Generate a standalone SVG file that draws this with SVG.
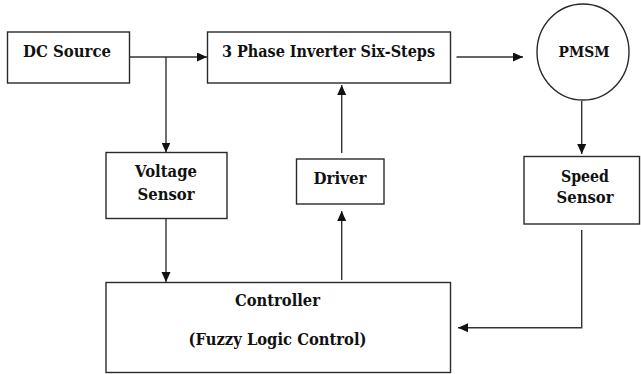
<svg xmlns="http://www.w3.org/2000/svg" width="641" height="374" viewBox="0 0 641 374">
  <defs>
    <marker id="arrow" markerUnits="userSpaceOnUse" markerWidth="11" markerHeight="10" refX="10" refY="4.5" orient="auto">
      <path d="M0,0 L10,4.5 L0,9 z" fill="#111"/>
    </marker>
  </defs>
  <rect width="641" height="374" fill="#ffffff"/>

  <g id="connectors" fill="none" stroke="#333" stroke-width="1.4">
    <path d="M129.5,57 L207,57" marker-end="url(#arrow)"/>
    <path d="M166,57 L166,152.5" marker-end="url(#arrow)"/>
    <path d="M456.5,57 L523,57" marker-end="url(#arrow)"/>
    <path d="M581.7,101 L581.7,154" marker-end="url(#arrow)"/>
    <path d="M581.7,230 L581.7,327.7 L458,327.7" marker-end="url(#arrow)"/>
    <path d="M166,218.5 L166,282" marker-end="url(#arrow)"/>
    <path d="M341.7,280 L341.7,211" marker-end="url(#arrow)"/>
    <path d="M341.7,153 L341.7,85" marker-end="url(#arrow)"/>
  </g>

  <g font-family="'DejaVu Serif', serif" font-weight="bold" font-size="17.5" fill="#111" text-anchor="middle">
  <g id="dc-source">
    <rect x="7.5" y="32" width="122" height="51" fill="#fff" stroke="#2a2a2a" stroke-width="1.4"/>
    <text x="67" y="56.5" textLength="88" lengthAdjust="spacingAndGlyphs">DC Source</text>
  </g>
  <g id="inverter">
    <rect x="207.5" y="32" width="243" height="51" fill="#fff" stroke="#2a2a2a" stroke-width="1.4"/>
    <text x="328.5" y="56.5" textLength="213" lengthAdjust="spacingAndGlyphs">3 Phase Inverter Six-Steps</text>
  </g>
  <g id="pmsm">
    <ellipse cx="583" cy="52" rx="46" ry="48" fill="#fff" stroke="#2a2a2a" stroke-width="1.4"/>
    <text x="584" y="57" font-size="15.5" textLength="51" lengthAdjust="spacingAndGlyphs">PMSM</text>
  </g>
  <g id="voltage-sensor">
    <rect x="106" y="152.5" width="121" height="66" fill="#fff" stroke="#2a2a2a" stroke-width="1.4"/>
    <text x="166" y="177" textLength="62" lengthAdjust="spacingAndGlyphs">Voltage</text>
    <text x="166" y="200" textLength="57" lengthAdjust="spacingAndGlyphs">Sensor</text>
  </g>
  <g id="driver">
    <rect x="296.5" y="159" width="87.5" height="45" fill="#fff" stroke="#2a2a2a" stroke-width="1.4"/>
    <text x="340" y="183.5" textLength="53" lengthAdjust="spacingAndGlyphs">Driver</text>
  </g>
  <g id="speed-sensor">
    <rect x="524" y="156.5" width="115.5" height="67.5" fill="#fff" stroke="#2a2a2a" stroke-width="1.4"/>
    <text x="585" y="181.7" textLength="48" lengthAdjust="spacingAndGlyphs">Speed</text>
    <text x="585" y="203.3" textLength="57" lengthAdjust="spacingAndGlyphs">Sensor</text>
  </g>
  <g id="controller">
    <rect x="106" y="282.5" width="344.5" height="90" fill="#fff" stroke="#2a2a2a" stroke-width="1.4"/>
    <text x="277.5" y="306" textLength="85" lengthAdjust="spacingAndGlyphs">Controller</text>
    <text x="277.5" y="345" textLength="178" lengthAdjust="spacingAndGlyphs">(Fuzzy Logic Control)</text>
  </g>
  </g>
</svg>
